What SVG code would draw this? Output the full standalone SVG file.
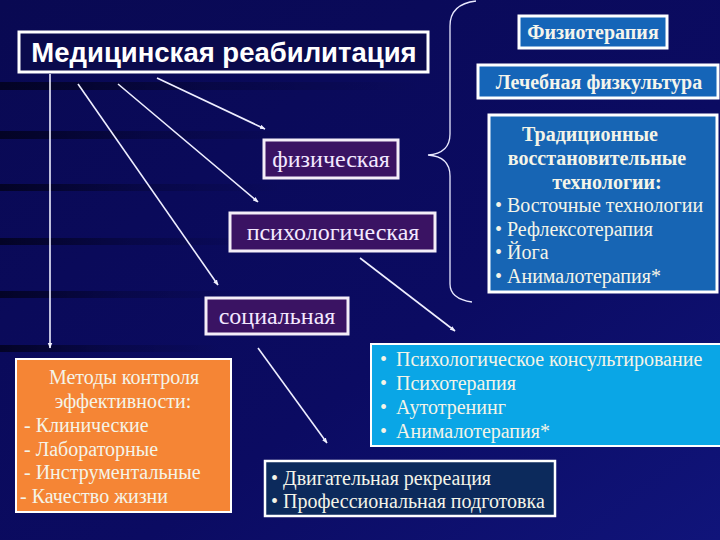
<svg xmlns="http://www.w3.org/2000/svg" width="720" height="540" viewBox="0 0 720 540">
<defs>
<linearGradient id="bg" x1="0" y1="0" x2="1" y2="1">
<stop offset="0" stop-color="#090952"/>
<stop offset="0.6" stop-color="#0b0b62"/>
<stop offset="1" stop-color="#10147a"/>
</linearGradient>
<linearGradient id="streak" x1="0" y1="0" x2="1" y2="0">
<stop offset="0" stop-color="#000010" stop-opacity="0.7"/>
<stop offset="0.5" stop-color="#000010" stop-opacity="0.25"/>
<stop offset="1" stop-color="#000010" stop-opacity="0"/>
</linearGradient>
<marker id="ah" viewBox="0 0 10 10" refX="9" refY="5" markerWidth="3.5" markerHeight="3.5" orient="auto">
<path d="M0,1 L10,5 L0,9 Z" fill="#f0f0ff"/>
</marker>
<style>
.conn{stroke:#eeeeff;stroke-width:1.6;fill:none;marker-end:url(#ah)}
.serif{font-family:"Liberation Serif","Times New Roman",serif}
.sans{font-family:"Liberation Sans",Arial,sans-serif}
.lbox{stroke:#ffffff;stroke-width:3}
.purple{fill:#3a1363;stroke:#f4eef8;stroke-width:3}
.ptext{fill:#f3e8ff;font-size:24px}
.btext{fill:#f4f4e8;font-size:20px}
</style>
</defs>
<rect width="720" height="540" fill="url(#bg)"/>
<g id="background-streaks">
<rect x="0" y="82" width="420" height="8" fill="url(#streak)"/>
<rect x="0" y="131" width="300" height="8" fill="url(#streak)"/>
<rect x="0" y="184" width="280" height="7" fill="url(#streak)"/>
<rect x="0" y="238" width="260" height="7" fill="url(#streak)"/>
<rect x="0" y="291" width="240" height="7" fill="url(#streak)"/>
<rect x="0" y="345" width="220" height="7" fill="url(#streak)"/>
</g>

<g id="connectors">
<line class="conn" x1="50" y1="74" x2="50" y2="348"/>
<line class="conn" x1="78" y1="84" x2="218" y2="285"/>
<line class="conn" x1="118" y1="84" x2="258" y2="202"/>
<line class="conn" x1="157" y1="78" x2="265" y2="129"/>
<line class="conn" x1="360" y1="258" x2="455" y2="331"/>
<line class="conn" x1="258" y1="348" x2="327" y2="443"/>
<path id="brace" d="M476,1 C459,3 450,11 450,26 L450,134 C450,147 442,154 428,155 C442,156 450,163 450,176 L450,284 C450,295 458,300 472,302" fill="none" stroke="#e8e8ff" stroke-width="1.3"/>
</g>

<g id="title">
<rect x="19" y="32" width="409" height="40" fill="#0a0a4c" stroke="#ffffff" stroke-width="3"/>
<text x="224" y="62" text-anchor="middle" class="sans" font-weight="bold" font-size="27.5" fill="#ffffff">Медицинская реабилитация</text>
</g>

<g id="fizioterapia">
<rect x="519" y="16" width="148" height="32" fill="#1565b8" class="lbox"/>
<text x="593" y="39" text-anchor="middle" class="serif" font-weight="bold" font-size="20" fill="#f4f4ec">Физиотерапия</text>
</g>

<g id="lfk">
<rect x="478" y="65" width="240" height="33" fill="#1565b8" class="lbox"/>
<text x="599" y="89" text-anchor="middle" class="serif" font-weight="bold" font-size="20" fill="#f4f4ec">Лечебная физкультура</text>
</g>

<g id="traditional">
<rect x="489" y="115" width="228" height="177" fill="#1765b4" class="lbox"/>
<g class="serif btext">
<text x="590" y="141" text-anchor="middle" font-weight="bold">Традиционные</text>
<text x="597" y="165" text-anchor="middle" font-weight="bold">восстановительные</text>
<text x="607" y="189" text-anchor="middle" font-weight="bold">технологии:</text>
<text x="495" y="212">• Восточные технологии</text>
<text x="495" y="236">• Рефлексотерапия</text>
<text x="495" y="259">• Йога</text>
<text x="495" y="283">• Анималотерапия*</text>
</g>
</g>

<g id="fizicheskaya">
<rect x="264" y="140" width="134" height="38" class="purple"/>
<text x="331" y="167" text-anchor="middle" class="serif ptext">физическая</text>
</g>

<g id="psihologicheskaya">
<rect x="230" y="213" width="205" height="38" class="purple"/>
<text x="333" y="240" text-anchor="middle" class="serif ptext">психологическая</text>
</g>

<g id="socialnaya">
<rect x="206" y="298" width="142" height="36" class="purple"/>
<text x="277" y="324" text-anchor="middle" class="serif ptext">социальная</text>
</g>

<g id="metody">
<rect x="16" y="359" width="215" height="153" fill="#f58535" stroke="#ffffff" stroke-width="2"/>
<g class="serif btext">
<text x="124" y="384" text-anchor="middle">Методы контроля</text>
<text x="123" y="408" text-anchor="middle">эффективности:</text>
<text x="24" y="432">- Клинические</text>
<text x="24" y="456">- Лабораторные</text>
<text x="24" y="479">- Инструментальные</text>
<text x="20" y="503">- Качество жизни</text>
</g>
</g>

<g id="psy-methods">
<rect x="371" y="344" width="350" height="102" fill="#0aa6e6" stroke="#ffffff" stroke-width="2"/>
<g class="serif btext">
<text x="380" y="366">•</text><text x="396" y="366">Психологическое консультирование</text>
<text x="380" y="390">•</text><text x="396" y="390">Психотерапия</text>
<text x="380" y="414">•</text><text x="396" y="414">Аутотренинг</text>
<text x="380" y="438">•</text><text x="396" y="438">Анималотерапия*</text>
</g>
</g>

<g id="social-methods">
<rect x="265" y="461" width="290" height="55" fill="#0c2a5c" stroke="#ffffff" stroke-width="2.5"/>
<g class="serif btext">
<text x="271" y="485">• Двигательная рекреация</text>
<text x="271" y="508">• Профессиональная подготовка</text>
</g>
</g>
</svg>
